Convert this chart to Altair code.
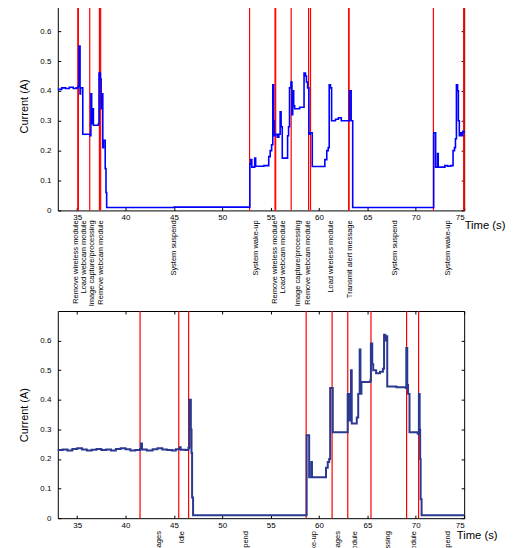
import altair as alt
import pandas as pd

# ---------------- data ----------------
top_t = [33.0, 33.4, 33.8, 34.2, 34.6, 34.9, 35.1, 35.2, 35.3, 35.35, 35.58, 36.33, 36.42, 36.5,
         36.6, 36.68, 37.2, 37.26, 37.4, 37.48, 37.55, 37.65, 37.72, 37.9, 37.98, 38.05,
         45.0, 52.85, 52.95, 53.05, 53.35, 53.45, 54.3, 54.8, 54.95, 55.1, 55.22, 55.3, 55.38,
         55.5, 55.7, 55.85, 55.98, 56.08, 56.2, 56.75, 56.85, 56.95, 57.1, 57.2, 57.28, 57.38,
         57.48, 58.0, 58.45, 58.6, 58.7, 58.82, 58.95, 59.1, 59.3, 60.6, 60.8, 60.95, 61.05,
         61.18, 61.3, 61.7, 62.0, 62.3, 63.15, 63.32, 63.48, 71.85, 72.05, 72.25, 72.32, 73.0,
         73.3, 73.6, 73.85, 74.0, 74.1, 74.2, 74.32, 74.4, 74.5, 74.6, 74.75, 74.85, 75.0]
top_a = [0.405, 0.41, 0.408, 0.412, 0.408, 0.41, 0.415, 0.55, 0.39, 0.41, 0.255, 0.25, 0.39, 0.29,
         0.34, 0.285, 0.29, 0.46, 0.44, 0.34, 0.39, 0.21, 0.235, 0.14, 0.06, 0.01,
         0.011, 0.155, 0.17, 0.145, 0.175, 0.148, 0.15, 0.18, 0.2, 0.22, 0.42, 0.3, 0.25,
         0.255, 0.245, 0.255, 0.33, 0.28, 0.175, 0.25, 0.28, 0.41, 0.43, 0.32, 0.40, 0.35,
         0.34, 0.345, 0.46, 0.45, 0.43, 0.41, 0.255, 0.26, 0.147, 0.17, 0.2, 0.21, 0.42,
         0.41, 0.3, 0.305, 0.31, 0.3, 0.40, 0.3, 0.01, 0.26, 0.145, 0.19, 0.145, 0.15,
         0.148, 0.15, 0.2, 0.21, 0.24, 0.42, 0.40, 0.3, 0.25, 0.26, 0.25, 0.265, 0.26]

bot_t = [33.0, 33.5, 34.0, 34.5, 35.0, 35.5, 36.0, 36.5, 37.0, 37.5, 38.0, 38.5, 39.0, 39.5,
         40.0, 40.5, 41.0, 41.5, 41.6, 41.7, 42.2, 42.8, 43.3, 43.8, 44.3, 44.8, 45.2, 45.6,
         45.7, 46.2, 46.5, 46.6, 46.75, 46.82, 46.88, 46.98, 58.72, 58.98, 59.2, 59.27, 60.72,
         60.9, 61.05, 61.15, 61.42, 62.96, 63.15, 63.3, 63.38, 63.9, 64.05, 64.2, 64.28, 64.38,
         65.3, 65.36, 65.5, 65.6, 65.9, 66.3, 66.6, 66.72, 66.85, 66.92, 67.05, 68.0, 68.96,
         69.02, 69.12, 69.2, 69.35, 70.2, 70.32, 70.4, 70.45, 70.5, 70.6, 75.0]
bot_a = [0.23, 0.232, 0.229, 0.234, 0.236, 0.232, 0.229, 0.231, 0.234, 0.23, 0.232, 0.229, 0.234, 0.236,
         0.233, 0.229, 0.23, 0.234, 0.252, 0.232, 0.229, 0.233, 0.236, 0.232, 0.23, 0.229, 0.233, 0.24,
         0.231, 0.23, 0.238, 0.40, 0.30, 0.22, 0.07, 0.01, 0.28, 0.138, 0.19, 0.138, 0.17,
         0.19, 0.2, 0.44, 0.29, 0.42, 0.33, 0.5, 0.32, 0.34, 0.42, 0.57, 0.42, 0.46,
         0.465, 0.59, 0.52, 0.5, 0.49, 0.495, 0.505, 0.62, 0.6, 0.615, 0.445, 0.442, 0.44,
         0.575, 0.45, 0.42, 0.29, 0.285, 0.42, 0.3, 0.2, 0.064, 0.01, 0.01]

top_events = [35.07, 35.13, 36.3, 37.3, 37.43, 52.82, 55.45, 55.52, 57.12, 58.92, 59.12,
              63.06, 63.1, 71.82, 74.95, 75.0]
bot_events = [41.5, 45.5, 46.52, 58.67, 61.35, 62.97, 65.37, 69.05, 70.29]

top_label_t = [34.86, 35.72, 36.57, 37.43, 44.96, 53.5, 55.47, 56.3, 57.85, 58.9, 61.25,
               63.15, 67.85, 73.3]
top_labels = ["Remove wireless module", "Load webcam module", "Image capture/processing",
              "Remove webcam module", "System suspend", "System wake-up",
              "Remove wireless module", "Load webcam module", "Image capture/processing",
              "Remove webcam module", "Load wireless module", "Transmit alert message",
              "System suspend", "System wake-up"]

bot_label_t = [43.44, 45.85, 52.45, 59.45, 62.0, 63.72, 67.15, 69.77, 73.28]
bot_labels = ["Receive messages", "Idle", "System suspend", "System wake-up",
              "Receive messages", "Load webcam module", "Image capture/processing",
              "Remove webcam module", "System suspend"]

x_ticks = [35, 40, 45, 50, 55, 60, 65, 70, 75]
y_ticks = [0, 0.1, 0.2, 0.3, 0.4, 0.5, 0.6]

FONT = "Liberation Sans"
NARROW = "Liberation Sans Narrow, Arial Narrow, Liberation Sans"
W = 408


def panel(t, a, color, sw, events, lab_t, labs, h, ymax, label_y, title_x, title_y):
    df = pd.DataFrame({"t": t, "a": a})
    ev = pd.DataFrame({"t": events})
    lb = pd.DataFrame({"t": lab_t, "label": labs})
    xs = alt.Scale(domain=[33, 75], nice=False, zero=False)
    ys = alt.Scale(domain=[0, ymax], nice=False)

    rules = alt.Chart(ev).mark_rule(color="#ff0000", strokeWidth=1.2).encode(
        x=alt.X("t:Q", scale=xs, axis=None))

    line = alt.Chart(df).mark_line(color=color, strokeWidth=sw, interpolate="step-after").encode(
        x=alt.X("t:Q", scale=xs, axis=alt.Axis(
            values=x_ticks, ticks=False, tickSize=0, domain=False, grid=False,
            labelFontSize=8, labelPadding=3, labelFont=FONT,
            title="Time (s)", titleFont=FONT, titleFontSize=11.3, titleFontWeight="normal",
            titleX=title_x, titleY=title_y, titleAlign="left", titleBaseline="middle")),
        y=alt.Y("a:Q", scale=ys, axis=alt.Axis(
            values=y_ticks, format=".1~f", ticks=False, tickSize=0, domain=False, grid=False,
            labelFontSize=8, labelPadding=7, labelFont=FONT,
            title="Current (A)", titleFont=NARROW, titleFontSize=11, titleFontWeight="normal",
            titlePadding=10)))

    tick_a = alt.Chart(df).mark_line(strokeOpacity=0).encode(
        x=alt.X("t:Q", scale=xs, axis=alt.Axis(
            orient="top", offset=-h, values=x_ticks, labels=False, domain=False, grid=False,
            ticks=True, tickSize=3, title=None)),
        y=alt.Y("a:Q", scale=ys, axis=alt.Axis(
            orient="right", offset=-W, values=y_ticks, labels=False, domain=False, grid=False,
            ticks=True, tickSize=3, title=None)))

    tick_b = alt.Chart(df).mark_line(strokeOpacity=0).encode(
        x=alt.X("t:Q", scale=xs, axis=alt.Axis(
            orient="bottom", offset=-h, values=x_ticks, labels=False, domain=False, grid=False,
            ticks=True, tickSize=3, title=None)),
        y=alt.Y("a:Q", scale=ys, axis=alt.Axis(
            orient="left", offset=-W, values=y_ticks, labels=False, domain=False, grid=False,
            ticks=True, tickSize=3, title=None)))

    text = alt.Chart(lb).mark_text(angle=270, align="right", baseline="middle",
                                   font=NARROW, fontSize=7.5, color="black").encode(
        x=alt.X("t:Q", scale=xs, axis=None),
        y=alt.value(label_y),
        text="label:N")

    return alt.layer(rules, line, tick_a, tick_b, text).resolve_axis(
        x="independent", y="independent").properties(width=W, height=h)


top = panel(top_t, top_a, "#0000ff", 1.6, top_events, top_label_t, top_labels,
            210, 0.7, 220, 408, 15)
bottom = panel(bot_t, bot_a, "#2b3990", 2.0, bot_events, bot_label_t, bot_labels,
               208, 0.7, 221, 400, 17)

# the upper edge of the first panel sits above the page margin, as in the cropped original
chart = alt.vconcat(top, bottom, spacing=101, bounds="flush").properties(
    padding={"left": 10, "top": -10, "right": 0, "bottom": 0}
).configure_view(stroke="black", strokeWidth=1).configure_axis(
    labelColor="black", titleColor="black", tickColor="black", tickWidth=1)

chart.save("out.html", embed_options={"renderer": "svg", "actions": False})
